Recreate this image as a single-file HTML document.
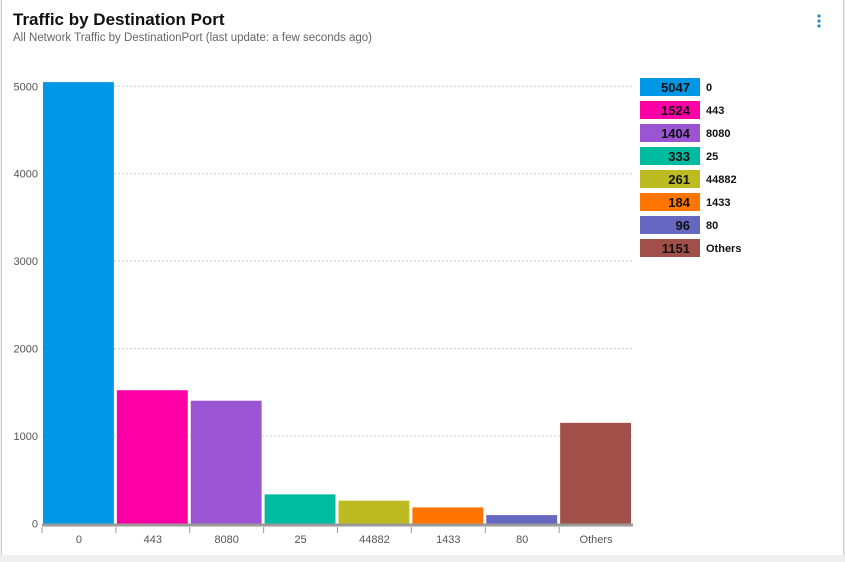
<!DOCTYPE html>
<html><head><meta charset="utf-8"><style>
body{margin:0;width:845px;height:562px;background:#efefef;font-family:"Liberation Sans",sans-serif;overflow:hidden}
#card{position:absolute;left:1px;top:0;width:841px;height:555px;background:#fff;border-left:1px solid #ccc;border-right:1px solid #ccc}
#title{position:absolute;left:11px;top:10px;font-size:17px;font-weight:bold;color:#111}
#sub{position:absolute;left:11px;top:32px;font-size:11.5px;color:#666}
#menu{position:absolute;left:814px;top:13px;width:6px;height:16px}
</style></head><body>
<div id="card">
<div id="title">Traffic by Destination Port</div>
<div id="sub">All Network Traffic by DestinationPort (last update: a few seconds ago)</div>
<svg id="menu" viewBox="0 0 6 16"><circle cx="3" cy="3" r="1.6" fill="#2d8ac9"/><circle cx="3" cy="8" r="1.6" fill="#2d8ac9"/><circle cx="3" cy="13" r="1.6" fill="#2d8ac9"/></svg>
</div>
<svg id="chart" width="845" height="562" style="position:absolute;left:0;top:0"></svg>
<script>
const categories=["0","443","8080","25","44882","1433","80","Others"];
const values=[5047,1524,1404,333,261,184,96,1151];
const colors=["#0097e6","#ff00a6","#9b55d2","#00bba0","#bcbc22","#ff7500","#6667c1","#a05049"];
const yTicks=[0,1000,2000,3000,4000,5000];
const NS="http://www.w3.org/2000/svg";
const svg=document.getElementById('chart');
const x0=42,x1=633,yBase=523.5,pxPer=87.45/1000;
const slot=(x1-x0)/categories.length;
const y=v=>yBase-v*pxPer;
function mk(t,a,p){const e=document.createElementNS(NS,t);for(const k in a)e.setAttribute(k,a[k]);(p||svg).appendChild(e);return e;}
yTicks.forEach(t=>{
 if(t>0){const g=mk('line',{x1:x0,x2:x1,y1:y(t),y2:y(t),stroke:'#ccc','stroke-dasharray':'2,2'});
 
 }
 const l=mk('text',{x:38,y:y(t)+4,'text-anchor':'end','font-size':11,fill:'#555'});
 
 
 l.textContent=t;
});
categories.forEach((c,i)=>{
 const bx=x0+i*slot+1;
 const r=mk('rect',{x:bx,y:y(values[i]),width:slot-3,height:yBase-y(values[i]),fill:colors[i]});
 
 
 const tk=mk('line',{x1:x0+i*slot,x2:x0+i*slot,y1:527,y2:533,stroke:'#999'});
 
 
 const l=mk('text',{x:x0+(i+.5)*slot,y:543,'text-anchor':'middle','font-size':11,fill:'#555'});
 
 
 l.textContent=c;
 const ly=78+i*23;
 const lb=mk('rect',{x:640,y:ly,width:60,height:18,fill:colors[i]});
 
 
 const lv=mk('text',{x:690,y:ly+14,'text-anchor':'end','font-size':13,'font-weight':'bold',fill:'#111'});
 
 
 lv.textContent=values[i];
 const ln=mk('text',{x:706,y:ly+13,'font-size':11,'font-weight':'bold',fill:'#111'});
 
 
 ln.textContent=c;
});
const ax=mk('rect',{x:x0,y:yBase,width:x1-x0,height:3,fill:'#999'});


</script>
</body></html>
